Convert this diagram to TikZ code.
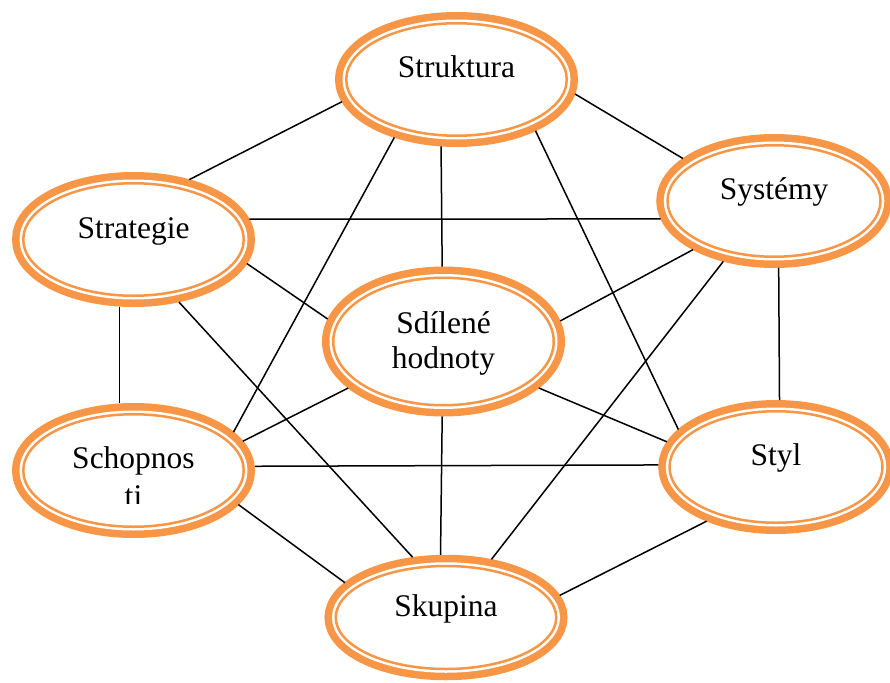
\documentclass[tikz,border=0pt]{standalone}
\usepackage{fontspec}
\setmainfont{Liberation Serif}
\usetikzlibrary{shapes.geometric}
\definecolor{ora}{HTML}{F79646}

% label text: baseline of the first line raised by #1 above the node centre
\newcommand{\bublabel}[2]{\raisebox{#1}[0pt][0pt]{\begin{tabular}[t]{@{}c@{}}#2\end{tabular}}}

\tikzset{
  bub/.style={ellipse, fill=white, draw=ora, line width=2.5pt,
    inner sep=0pt, outer sep=11.25pt,
    minimum width=220.5pt, minimum height=112.5pt,
    preaction={draw=ora, line width=22.5pt},
    preaction={draw=white, line width=7.5pt},
    font=\fontsize{31.5pt}{35pt}\selectfont},
  txt/.style={inner sep=0pt, font=\fontsize{31.5pt}{35pt}\selectfont},
  link/.style={draw=black, line width=1.5pt}
}

\begin{document}
\begin{tikzpicture}[x=1pt, y=-1pt]
\useasboundingbox (0,0) rectangle (890,682);

% the seven elements
\node[bub] (Str) at (456.5,79.5) {\bublabel{1.5pt}{Struktura}};
\node[bub, minimum width=213pt, minimum height=111.5pt] (Sys) at (774,201) {\bublabel{2pt}{Systémy}};
\node[bub] (Stg) at (133.5,239.5) {\bublabel{1.5pt}{Strategie}};
\node[bub, minimum height=127.5pt] (Sdi) at (443.5,341.5) {\bublabel{8.5pt}{Sdílené\\hodnoty}};
\node[bub] (Sch) at (133.5,470.5) {};
\node[bub, minimum width=213pt, minimum height=111.5pt] (Sty) at (776,467) {\bublabel{2pt}{Styl}};
\node[bub, minimum height=103pt] (Sku) at (446,617.5) {\bublabel{1pt}{Skupina}};

% the second line of this label is cut off by its box
\begin{scope}
  \clip (0,0) rectangle (890,503.5);
  \node[txt] (SchText) at (Sch.center) {\bublabel{2.5pt}{Schopnos\\[3pt]ti}};
\end{scope}

% connections
\draw[link] (Str.191)   -- (Stg.47.4);
\draw[link] (Str.-7.6)  -- (Sys.155.3);
\draw[link] (Str.257.1) -- (Sdi.91.9);
\draw[link] (Str.223.6) -- (Sch.21.3);
\draw[link] (Str.-33)   -- (Sty.159);
\draw[link] (Stg.10.2)  -- (Sys.189);
\draw[link] (Stg.-12.9) -- (Sdi.169.5);
\draw[link] (Stg.258.5) -- (Sch.102.6);
\draw[link] (Stg.-54.3) -- (Sku.119.3);
\draw[link] (Sys.211.1) -- (Sdi.10.5);
\draw[link] (Sys.274.3) -- (Sty.87.4);
\draw[link] (Sys.230.7) -- (Sku.52.8);
\draw[link] (Sdi.206.7) -- (Sch.15.6);
\draw[link] (Sdi.-26)   -- (Sty.167);
\draw[link] (Sdi.269)   -- (Sku.95.5);
\draw[link] (Sch.2.2)   -- (Sty.179);
\draw[link] (Sch.-18.8) -- (Sku.161);
\draw[link] (Sty.218.1) -- (Sku.11.1);
\end{tikzpicture}
\end{document}
